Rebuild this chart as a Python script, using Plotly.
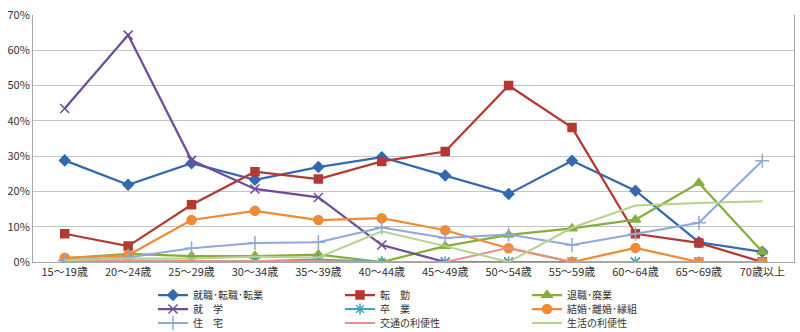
import plotly.graph_objects as go

# Age groups on the x axis
age_groups = ["15～19歳", "20～24歳", "25～29歳", "30～34歳", "35～39歳", "40～44歳",
              "45～49歳", "50～54歳", "55～59歳", "60～64歳", "65～69歳", "70歳以上"]

# Share of movers by reason (%)
shushoku = [28.8, 21.9, 28.0, 23.3, 26.9, 29.7, 24.5, 19.3, 28.7, 20.2, 5.6, 2.9]
tenkin = [8.0, 4.5, 16.2, 25.6, 23.5, 28.5, 31.3, 50.0, 38.1, 8.0, 5.4, 0.0]
taishoku = [1.0, 2.3, 1.7, 1.7, 2.1, 0.0, 4.5, 7.7, 9.5, 12.0, 22.4, 2.9]
shugaku = [43.5, 64.3, 28.8, 20.7, 18.3, 4.8, 0.0, 0.0, 0.0, 0.0, 0.0, 0.0]
sotsugyo = [0.5, 0.4, 0.3, 0.2, 0.7, 0.0, 0.0, 0.0, 0.0, 0.0, 0.0, 0.0]
kekkon = [1.2, 1.9, 11.9, 14.5, 11.9, 12.4, 9.0, 3.9, 0.0, 4.0, 0.0, 0.0]
jutaku = [0.4, 1.3, 3.9, 5.4, 5.6, 9.8, 6.8, 7.8, 4.8, 8.0, 11.1, 28.7]
kotsu = [0.3, 0.3, 0.3, 0.3, 0.3, 0.0, 0.0, 4.0, 0.0, 0.0, 0.0, 0.0]
seikatsu = [0.5, 1.0, 1.0, 1.5, 1.3, 8.7, 4.5, 0.0, 9.7, 16.0, 16.7, 17.2]

series = [
    ("就職･転職･転業", shushoku, "#3469B0", "diamond", 8, 2.25),
    ("転　勤", tenkin, "#B23A33", "square", 8, 2.25),
    ("退職･廃業", taishoku, "#86AE3C", "triangle-up", 9, 2.25),
    ("就　学", shugaku, "#6E4D9B", "x-thin-open", 9, 2.25),
    ("卒　業", sotsugyo, "#3FA6C2", "asterisk-open", 9, 2.0),
    ("結婚･離婚･縁組", kekkon, "#EF8A35", "circle", 9, 2.25),
    ("住　宅", jutaku, "#8EA9D6", "cross-thin-open", 10, 2.0),
    ("交通の利便性", kotsu, "#E2928F", None, 0, 2.0),
    ("生活の利便性", seikatsu, "#B5D38C", None, 0, 2.0),
]

font_family = "Noto Sans CJK JP, Noto Sans, sans-serif"
legend_names = ["legend", "legend2", "legend3"]

fig = go.Figure()
for i, (name, vals, color, symbol, msize, lw) in enumerate(series):
    marker = dict(color=color, size=msize)
    if symbol:
        marker["symbol"] = symbol
        marker["line"] = dict(color=color, width=1.5)
    fig.add_trace(go.Scatter(
        x=age_groups, y=vals, name=name,
        mode="lines+markers" if symbol else "lines",
        line=dict(color=color, width=lw),
        marker=marker,
        legend=legend_names[i // 3],
    ))

# Three one-row legends stacked closely beneath the axis
legend_common = dict(
    orientation="h", xanchor="left", yanchor="middle",
    xref="container", yref="container",
    entrywidth=142, entrywidthmode="pixels",
    font=dict(family=font_family, size=10, color="#333333"),
    bgcolor="rgba(0,0,0,0)", itemwidth=30, tracegroupgap=0,
)
legend_y = [1 - 295 / 332, 1 - 309 / 332, 1 - 323 / 332]
legend_x = 153 / 800

fig.update_layout(
    width=800, height=332,
    margin=dict(l=33, r=6, t=15, b=70, autoexpand=False),
    paper_bgcolor="white", plot_bgcolor="white",
    font=dict(family=font_family, size=11, color="#333333"),
    legend=dict(x=legend_x, y=legend_y[0], **legend_common),
    legend2=dict(x=legend_x, y=legend_y[1], **legend_common),
    legend3=dict(x=legend_x, y=legend_y[2], **legend_common),
    xaxis=dict(
        type="category", showgrid=False, showline=True, linecolor="#A6A6A6",
        linewidth=1, ticks="", tickfont=dict(size=11, color="#333333"),
        range=[-0.5, len(age_groups) - 0.5],
    ),
    yaxis=dict(
        range=[0, 70], dtick=10, ticksuffix="%", showgrid=True,
        gridcolor="#C4C4C4", gridwidth=1, showline=True, linecolor="#A6A6A6",
        mirror=True, zeroline=False, ticks="", tickfont=dict(size=11, color="#333333"),
    ),
)

fig.write_html("out.html")
